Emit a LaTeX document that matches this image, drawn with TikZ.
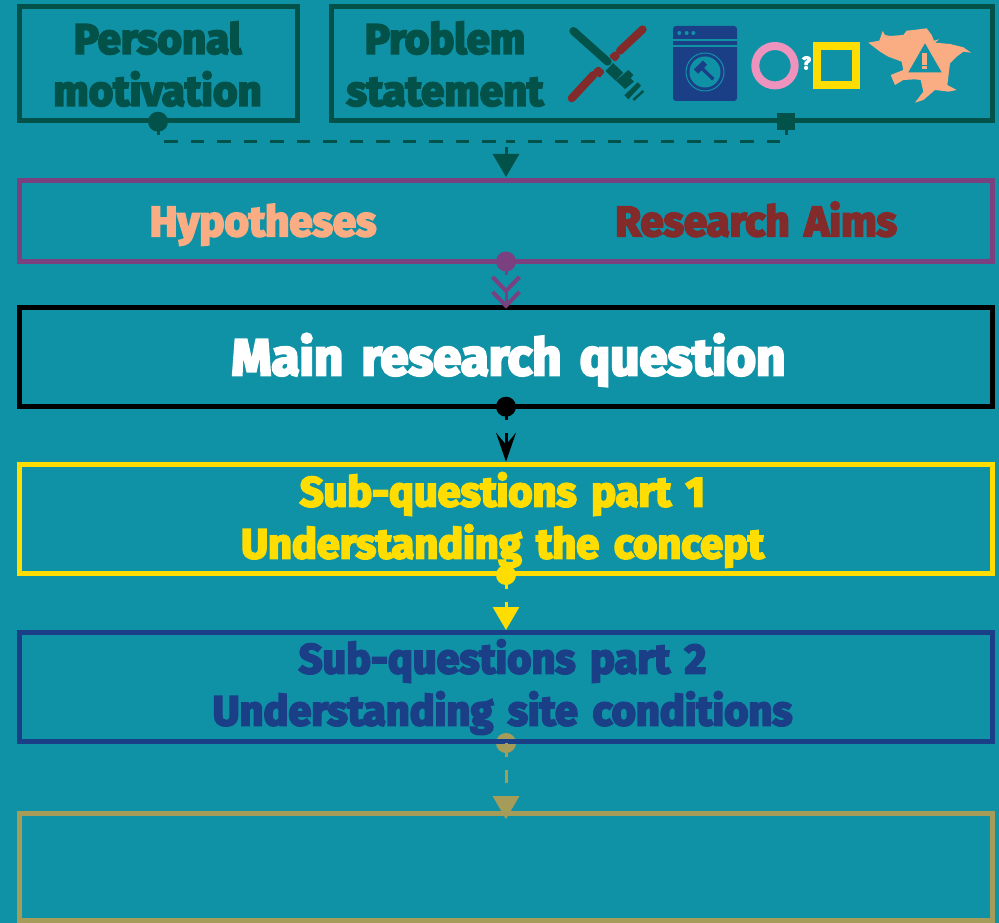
\documentclass[tikz,border=0pt]{standalone}
\usepackage{fontspec}
\setmainfont{Fira Sans}[WordSpace=1.5,BoldFeatures={FakeBold=5}]
\usetikzlibrary{arrows.meta}

\definecolor{backdrop}{HTML}{1092A6}
\definecolor{pine}{HTML}{03524A}
\definecolor{plum}{HTML}{7A4080}
\definecolor{sun}{HTML}{FFDD00}
\definecolor{navy}{HTML}{1A3F87}
\definecolor{khaki}{HTML}{A69C5A}
\definecolor{salmon}{HTML}{FAAC82}
\definecolor{maroon}{HTML}{832A2A}
\definecolor{rose}{HTML}{EE93BD}

\tikzset{
	box/.style={draw=#1, line width=5pt, outer sep=0pt, inner sep=0pt},
	dot/.style={circle, fill=#1, minimum size=20pt, inner sep=0pt, outer sep=0pt},
	link/.style={draw=#1, line width=3pt, dash pattern=on 13.5pt off 13pt},
	wedge/.style={-{Triangle[length=23pt,width=26pt]}},
	label/.style={font=\bfseries\fontsize{42}{52}\selectfont, align=center},
	sublabel/.style={font=\bfseries\fontsize{41.5}{52}\selectfont, align=center},
}

\begin{document}
\begin{tikzpicture}[x=1pt,y=-1pt]

	\useasboundingbox (0,0) rectangle (999,923);
	\fill[backdrop] (0,0) rectangle (999,923);

	% this one sits under the box above it
	\node[dot=khaki] (parttwodot) at (506,743) {};

	\node[box=pine, minimum width=278pt, minimum height=114pt] (personal) at (158.5,63.5) {};
	\node[box=pine, minimum width=661pt, minimum height=114pt] (problem) at (662,63.5) {};
	\node[box=plum, minimum width=973pt, minimum height=81pt] (aims) at (506,221) {};
	\node[box=black, minimum width=973pt, minimum height=99pt] (main) at (506,357.2) {};
	\node[box=sun, minimum width=973pt, minimum height=109pt] (partone) at (506,519.2) {};
	\node[box=navy, minimum width=973pt, minimum height=109.4pt] (parttwo) at (506,687) {};
	\node[box=khaki, minimum width=973pt, minimum height=107.7pt] (last) at (506,867) {};

	\node[label, text=pine] (personaltext) at (157.5,64) {Personal\\motivation};
	\node[label, text=pine] (problemtext) at (445,64) {Problem\\statement};
	\node[label, text=salmon, anchor=base] (hypotheses) at (263,236) {Hypotheses};
	\node[label, text=maroon, anchor=base] (researchaims) at (756,236) {Research Aims};
	\node[label, text=white, anchor=base, font=\bfseries\fontsize{51}{60}\selectfont] (maintext) at (508.5,375) {Main research question};
	\node[sublabel, text=sun] (paronetext) at (502.5,520) {Sub-questions part 1\\Understanding the concept};
	\node[sublabel, text=navy] (parttwotext) at (502.5,687) {Sub-questions part 2\\Understanding site conditions};

	% dashed trunk under the two top boxes
	\node[dot=pine] (personaldot) at (158,121.7) {};
	\node[fill=pine, minimum size=17.7pt, inner sep=0pt] (problemdot) at (786.2,121.5) {};
	\coordinate (trunk) at (506,142);
	\coordinate (trunkstub) at (506,147);
	\draw[link=pine] (personaldot.center) |- (trunk);
	\draw[link=pine] (problemdot.center) |- (trunk);
	\draw[link=pine, wedge] (trunkstub) -- ([yshift=3.5pt]aims.north);

	\node[dot=plum] (aimsdot) at (506,261.5) {};
	\node[dot=black] (maindot) at (506,406.7) {};
	\node[dot=sun] (partonedot) at (506,575) {};

	\foreach \a/\b/\c/\s/\t in {aims/main/plum/3/{-{Straight Barb[length=14pt,width=27pt,line width=4pt,sep=-4pt] Straight Barb[length=14pt,width=27pt,line width=4pt,sep=-4pt]}},
		main/partone/black/3/{-{Stealth[length=29pt,width=20pt,inset=12pt]}},
		partone/parttwo/sun/2.3/{wedge},
		parttwo/last/khaki/-6/{wedge}}
	{
		\draw[link=\c, \t] (\a dot.center) -- ([yshift=\s pt]\b.north);
	}

	% sabers
	\begin{scope}[shift={(560,20)},x=.3333pt,y=-.3333pt]
		\draw[maroon, line width=8pt, line cap=round] (248,28) -- (180,92);
		\draw[maroon, line width=8pt, line cap=round] (100,165) -- (35,235);
		\fill[maroon, rounded corners=1.5pt] (147,108) -- (165,92) -- (182,108) -- (165,127) -- cycle;
		\fill[maroon, rounded corners=1.5pt] (98,152) -- (115,138) -- (135,155) -- (118,175) -- cycle;
		\draw[pine, line width=8pt, line cap=round] (40,33) -- (143,125);
		\draw[pine, line width=11pt] (148,141) -- (178,170);
		\fill[pine] (168,182) -- (205,150) -- (220,165) -- (212,175) -- (222,185) -- (195,207) -- cycle;
		\fill[pine] (193,226) -- (233,187) -- (243,197) -- (205,238) -- cycle;
		\draw[pine, line width=2.5pt] (220,240) -- (250,213);
	\end{scope}

	% washing machine
	\begin{scope}[shift={(665,20)},x=.3333pt,y=-.3333pt]
		\fill[navy, rounded corners=3pt] (24,18) rectangle (216,243);
		\foreach \x in {43,65,85}
			\fill[backdrop] (\x,39) circle (2pt);
		\draw[backdrop, line width=1.3pt] (24,60) -- (216,60);
		\draw[backdrop, line width=1.3pt] (24,78) -- (216,78);
		\draw[backdrop, line width=1pt] (120,156) circle (19pt);
		\fill[backdrop] (120,156) circle (15.5pt);
		\draw[navy, line width=6pt] (93,155) -- (120,128);
		\draw[navy, line width=3.3pt] (108,142) -- (145,178);
	\end{scope}

	% ring and square
	\draw[rose, line width=8pt] (775,65.7) circle (19.7pt);
	\draw[sun, line width=8pt] (817,46) rectangle (856,85);
	\node[text=white, font=\bfseries\fontsize{18}{18}\selectfont] (mark) at (806.5,63) {?};

	% map with warning
	\begin{scope}[shift={(860,20)},x=.3333pt,y=-.3333pt]
		\fill[salmon] (25,68) -- (58,62) -- (68,33) -- (75,45) -- (90,48) -- (130,45) -- (140,32) -- (160,30) -- (200,25) -- (215,45) -- (222,62) -- (238,58) -- (225,68) -- (270,72) -- (310,82) -- (333,98) -- (310,95) -- (290,110) -- (270,130) -- (262,195) -- (290,210) -- (265,215) -- (225,210) -- (190,240) -- (165,248) -- (190,215) -- (182,180) -- (165,178) -- (130,180) -- (105,195) -- (92,165) -- (130,150) -- (125,125) -- (85,110) -- (60,95) -- cycle;
		\fill[backdrop] (195,70) -- (245,157) -- (145,157) -- cycle;
		\fill[salmon] (187,100) rectangle (202,135);
		\fill[salmon] (187,137) rectangle (202,146);
	\end{scope}

\end{tikzpicture}
\end{document}
